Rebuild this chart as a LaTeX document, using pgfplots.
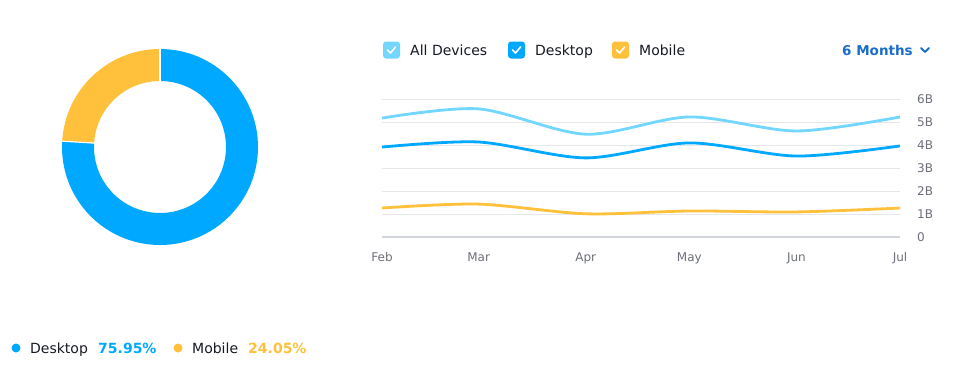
\documentclass[border=0pt]{standalone}
\usepackage{pgfplots}
\pgfplotsset{compat=1.18}
\usepackage{fontspec}
\setmainfont{DejaVu Sans}
\definecolor{alldev}{HTML}{72D6FF}
\definecolor{desk}{HTML}{00A8FF}
\definecolor{mob}{HTML}{FFC13B}
\definecolor{gridc}{HTML}{E6E7EB}
\definecolor{axc}{HTML}{D3D6DC}
\definecolor{tickc}{HTML}{6E7079}
\definecolor{txt}{HTML}{171A22}
\definecolor{linkc}{HTML}{1A6DC8}
\pgfplotstableread{
day all desktop mobile
0   5.17 3.91 1.26
28  5.57 4.13 1.43
59  4.47 3.44 1.01
89  5.22 4.09 1.13
120 4.61 3.52 1.09
150 5.22 3.96 1.26
}\trend
\newcommand{\deskshare}{75.95}
\newcommand{\mobshare}{24.05}
\begin{document}
\begin{tikzpicture}[x=1pt,y=1pt]
\path (0,0) rectangle (953,376);
% donut
\begin{axis}[at={(160pt,229pt)}, anchor=center, scale only axis,
  width=196pt, height=196pt, hide axis, xmin=-1, xmax=1, ymin=-1, ymax=1, clip=false]
  \pgfmathsetmacro{\dang}{3.6*\deskshare}
  \pgfmathsetmacro{\mang}{3.6*\mobshare}
  \draw[desk, line width=32pt] (axis cs:0,0) ++(90:82pt) arc[start angle=90, delta angle=-\dang, radius=82pt];
  \draw[mob, line width=32pt] (axis cs:0,0) ++(90-\dang:82pt) arc[start angle=90-\dang, delta angle=-\mang, radius=82pt];
  \draw[white, line width=1.2pt] (axis cs:0,0) ++(90:65pt) -- ++(90:34pt);
  \draw[white, line width=1.2pt] (axis cs:0,0) ++(90-\dang:65pt) -- ++(90-\dang:34pt);
\end{axis}
% lines
\begin{axis}[at={(382pt,139pt)}, anchor=south west, scale only axis,
  width=518pt, height=138pt, xmin=0, xmax=150, ymin=0, ymax=6,
  axis line style={draw=none}, clip=false,
  ymajorgrids, grid style={gridc, line width=1pt},
  ytick={1,2,3,4,5,6}, yticklabels={1B,2B,3B,4B,5B,6B},
  extra y ticks={0}, extra y tick labels={0},
  extra tick style={grid style={axc, line width=1.4pt}},
  yticklabel pos=right,
  xtick={0,28,59,89,120,150}, xticklabels={Feb,Mar,Apr,May,Jun,Jul},
  major tick length=0pt, minor tick length=0pt,
  tick label style={font=\fontsize{12}{14}\selectfont, text=tickc},
  yticklabel style={anchor=west, inner sep=0pt, xshift=17pt},
  xticklabel style={anchor=north, inner sep=0pt, yshift=-15.5pt},
]
  \addplot[alldev, line width=2.8pt, smooth, tension=0.5] table[x=day, y=all] {\trend};
  \addplot[desk, line width=2.8pt, smooth, tension=0.5] table[x=day, y=desktop] {\trend};
  \addplot[mob, line width=2.8pt, smooth, tension=0.5] table[x=day, y=mobile] {\trend};
\end{axis}
% top legend
\foreach \cx/\col/\lab in {391.5/alldev/All Devices, 516.5/desk/Desktop, 620.5/mob/Mobile}{
  \fill[\col, rounded corners=3pt] (\cx-8.5,326-8.5) rectangle (\cx+8.5,326+8.5);
  \draw[white, line width=1.6pt, line cap=round, line join=round] (\cx-4,326) -- (\cx-1,323) -- (\cx+4,329);
  \node[anchor=base west, inner sep=0pt, text=txt, font=\fontsize{14}{16}\selectfont] at (\cx+18.5,321) {\lab};
}
\node[anchor=base west, inner sep=0pt, text=linkc, font=\fontsize{13.5}{16}\selectfont\bfseries] at (842,321) {6 Months};
\draw[linkc, line width=1.8pt, line cap=round, line join=round] (921,328) -- (925,324) -- (929,328);
% bottom legend
\fill[desk] (16,28) circle (4.5);
\node[anchor=base west, inner sep=0pt, text=txt, font=\fontsize{14}{16}\selectfont] at (30,23) {Desktop};
\node[anchor=base west, inner sep=0pt, text=desk, font=\fontsize{14}{16}\selectfont\bfseries] at (98,23) {75.95\%};
\fill[mob] (178,28) circle (4.5);
\node[anchor=base west, inner sep=0pt, text=txt, font=\fontsize{14}{16}\selectfont] at (192,23) {Mobile};
\node[anchor=base west, inner sep=0pt, text=mob, font=\fontsize{14}{16}\selectfont\bfseries] at (248,23) {24.05\%};
\end{tikzpicture}
\end{document}
